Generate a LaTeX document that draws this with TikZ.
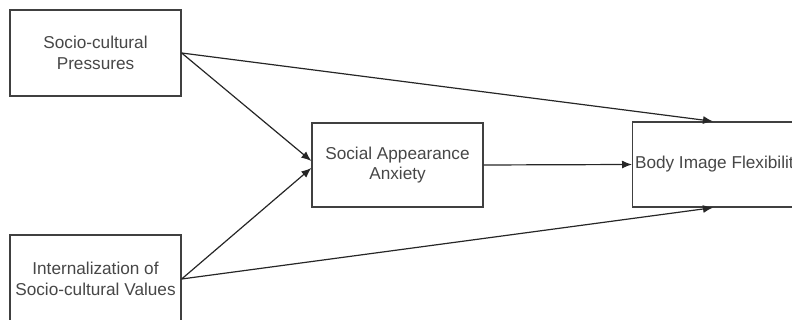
\documentclass[tikz,border=0pt]{standalone}
\usepackage{fontspec}
\setmainfont{Liberation Sans}
\usetikzlibrary{arrows,arrows.meta,calc}
\tikzset{>={Latex[length=7.5pt,width=6pt]}, box/.style = {draw=black!75, line width=1pt, fill=white,
            inner sep=0pt, align=center, text=black!72,
            font=\fontsize{12.9}{15.5}\selectfont},%
		link/.style={->, draw=black!85, line width=0.9pt}}
\begin{document}
\begin{tikzpicture}[x=0.75pt,y=0.75pt]
          \useasboundingbox (0,0) rectangle (792,320);
          \node[box, minimum width=128.25pt, minimum height=64.5pt] (scp)
          at (95.5,267) {Socio-cultural\\Pressures};
          \node[box, minimum width=128.25pt, minimum height=66pt] (iscv)
          at (95.5,41) {Internalization of\\Socio-cultural Values};
          \node[box, minimum width=128.25pt, minimum height=63pt] (saa)
          at (397.5,155) {Social Appearance\\Anxiety};
          \node[box, minimum width=129pt, minimum height=63.75pt, anchor=west] (bif)
          at (632,155.5) {Body Image Flexibility};
          \draw[link] (scp.east) -- ($(saa.west)+(0,4)$);
          \draw[link] (iscv.east) -- ($(saa.west)+(0,-3)$);
          \draw[link] (scp.east) -- ($(bif.north west)+(81,0)$);
          \draw[link] (iscv.east) -- ($(bif.south west)+(81,0)$);
          \draw[link] (saa.east) -- (bif.west);
        \end{tikzpicture}
\end{document}
